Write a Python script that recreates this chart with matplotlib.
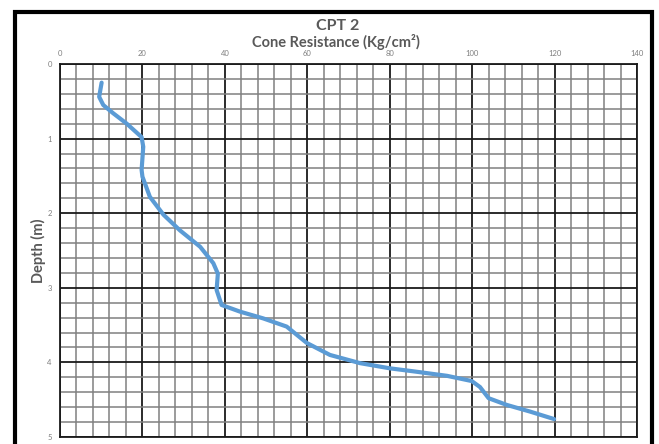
import numpy as np
import matplotlib
matplotlib.use("Agg")
import matplotlib.pyplot as plt
from matplotlib.patches import Rectangle

# ---- data (depth in m, cone resistance in Kg/cm2)
depth = [0.25, 0.44, 0.55, 0.66, 0.80, 0.98, 1.11, 1.42, 1.51, 1.78, 2.02,
         2.23, 2.45, 2.67, 2.81, 3.03, 3.23, 3.32, 3.41, 3.52, 3.61, 3.74,
         3.90, 4.01, 4.08, 4.12, 4.18, 4.25, 4.33, 4.48, 4.57, 4.66, 4.76]
resistance = [10.1, 9.5, 10.5, 12.9, 16.2, 19.8, 20.2, 19.8, 20.0, 21.8, 25.1,
              29.1, 34.0, 37.2, 38.3, 38.0, 39.2, 43.7, 49.3, 55.0, 57.0, 59.9,
              65.5, 72.8, 80.1, 85.8, 93.9, 99.9, 101.9, 104.0, 108.4, 114.1, 119.9]

x_ticks = [0, 20, 40, 60, 80, 100, 120, 140]
y_ticks = [0, 1, 2, 3, 4, 5]

title = "CPT 2"
x_title = "Cone Resistance (Kg/cm²)"
y_title = "Depth (m)"

plt.rcParams['font.family'] = ['Lato', 'DejaVu Sans']
text_grey = "#595959"

fig = plt.figure(figsize=(6.59, 4.44), dpi=100)
ax = fig.add_axes([60/659, 1 - 437/444, (637 - 60)/659, (437 - 64)/444])

# ---- grid: minor grey, major black
ax.set_xlim(0, 140)
ax.set_ylim(5, 0)
ax.set_xticks(x_ticks)
ax.set_yticks(y_ticks)
ax.set_xticks(np.arange(0, 141, 4), minor=True)
ax.set_yticks(np.arange(0, 5.01, 0.2), minor=True)
ax.grid(which="minor", color="#808080", linewidth=1.1)
ax.grid(which="major", color="#1a1a1a", linewidth=1.3)
ax.set_axisbelow(True)
for s in ax.spines.values():
    s.set_color("#1a1a1a")
    s.set_linewidth(1.3)

ax.xaxis.tick_top()
ax.tick_params(which="both", length=0)
ax.tick_params(axis="x", labelsize=5.5, labelcolor="#7f7f7f", pad=5)
ax.tick_params(axis="y", labelsize=5.5, labelcolor="#7f7f7f", pad=6)

ax.plot(resistance, depth, color="#5B9BD5", linewidth=3.0,
        solid_joinstyle="round", solid_capstyle="round")

# ---- titles
fig.text(338/659, 1 - 26/444, title, ha="center", va="center",
         fontsize=11.5, fontweight="bold", color=text_grey)
fig.text(336/659, 1 - 42/444, x_title, ha="center", va="center",
         fontsize=10.5, fontweight="bold", color=text_grey)
fig.text(38/659, 1 - 251/444, y_title, ha="center", va="center",
         rotation=90, fontsize=10.5, fontweight="bold", color=text_grey)

# ---- outer black frame (bottom edge runs off the picture)
fig.patches.append(Rectangle((15/659, -0.1), (652 - 15)/659, 1.1 - 12/444,
                             transform=fig.transFigure, fill=False,
                             edgecolor="black", linewidth=3.0))

fig.savefig("out.png", dpi=100)
